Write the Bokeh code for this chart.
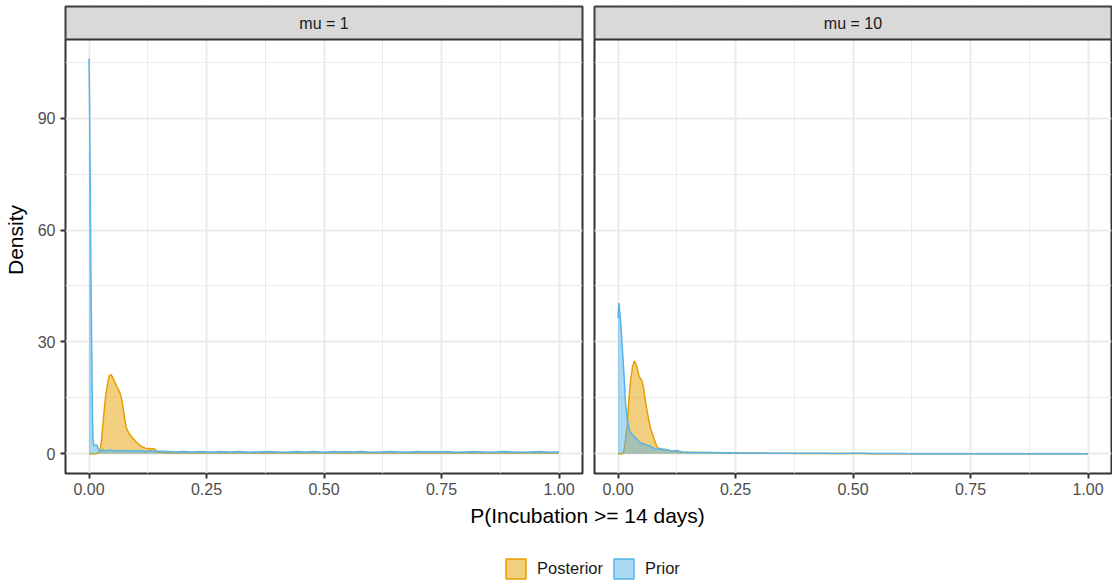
from bokeh.plotting import figure
from bokeh.layouts import row, column
from bokeh.models import Range1d, FixedTicker, NumeralTickFormatter, Legend, LegendItem
from bokeh.embed import file_html
from bokeh.resources import INLINE
from bokeh.core.properties import value

# ---------------- data ----------------
facet_labels = ["mu = 1", "mu = 10"]
series_names = ["Posterior", "Prior"]
x_ticks = [0.0, 0.25, 0.5, 0.75, 1.0]
x_minor = [0.125, 0.375, 0.625, 0.875]
y_ticks = [0, 30, 60, 90]
y_minor = [15, 45, 75, 105]
x_axis_title = "P(Incubation >= 14 days)"
y_axis_title = "Density"

tail_x = [0.16, 0.18, 0.20, 0.22, 0.24, 0.26, 0.28, 0.30, 0.32, 0.34,
          0.36, 0.38, 0.40, 0.42, 0.44, 0.46, 0.48, 0.50, 0.52, 0.54,
          0.56, 0.58, 0.60, 0.62, 0.64, 0.66, 0.68, 0.70, 0.72, 0.74,
          0.76, 0.78, 0.80, 0.82, 0.84, 0.86, 0.88, 0.90, 0.92, 0.94,
          0.96, 0.98, 1.00]

# mu = 1, prior
mu1_prior_x = [0.000, 0.001, 0.002, 0.003, 0.004, 0.005, 0.006, 0.007, 0.008, 0.009,
               0.010, 0.013, 0.016, 0.018, 0.020, 0.022, 0.025, 0.030, 0.035, 0.040,
               0.045, 0.050, 0.055, 0.060, 0.065, 0.070, 0.075, 0.080, 0.085, 0.090,
               0.095, 0.100, 0.110, 0.120, 0.130, 0.140, 0.150] + tail_x
mu1_prior_y = [106.0, 96.0, 82.0, 66.0, 50.0, 37.0, 26.0, 14.0, 6.0, 3.2,
               2.4, 2.2, 2.4, 2.0, 1.3, 0.9, 0.8, 1.0, 0.8, 0.9,
               1.0, 0.8, 0.9, 0.7, 0.9, 0.8, 0.9, 0.7, 0.8, 0.7,
               0.9, 0.7, 0.8, 0.6, 0.8, 0.6, 0.7,
               0.7, 0.5, 0.6, 0.5, 0.6, 0.4, 0.6, 0.5, 0.6, 0.4,
               0.5, 0.6, 0.5, 0.4, 0.6, 0.5, 0.6, 0.4, 0.6, 0.5,
               0.5, 0.6, 0.4, 0.5, 0.6, 0.5, 0.4, 0.6, 0.5, 0.5,
               0.6, 0.4, 0.5, 0.6, 0.5, 0.4, 0.6, 0.5, 0.4, 0.5,
               0.6, 0.4, 0.5]

# mu = 1, posterior
mu1_post_x = [0.000, 0.015, 0.020, 0.024, 0.027, 0.030, 0.033, 0.036, 0.040, 0.043,
              0.047, 0.051, 0.055, 0.060, 0.064, 0.068, 0.071, 0.075, 0.079, 0.085,
              0.093, 0.100, 0.107, 0.114, 0.120, 0.130, 0.139, 0.143, 0.147, 0.150] + tail_x
mu1_post_y = [0.0, 0.0, 0.3, 1.0, 4.0, 8.5, 12.5, 16.0, 19.0, 20.9,
              21.2, 20.3, 19.2, 17.8, 16.9, 15.5, 13.5, 10.2, 7.1, 5.4,
              4.2, 3.2, 2.4, 1.8, 1.5, 1.4, 1.3, 0.9, 0.4, 0.3,
              0.3, 0.2, 0.3, 0.2, 0.2, 0.3, 0.2, 0.2, 0.3, 0.2,
              0.2, 0.2, 0.3, 0.2, 0.2, 0.2, 0.3, 0.2, 0.2, 0.2,
              0.2, 0.3, 0.2, 0.2, 0.2, 0.2, 0.3, 0.2, 0.2, 0.2,
              0.2, 0.2, 0.3, 0.2, 0.2, 0.2, 0.2, 0.2, 0.2, 0.3,
              0.2, 0.2, 0.2]

# mu = 10, prior
mu10_prior_x = [0.000, 0.002, 0.006, 0.009, 0.013, 0.016, 0.020, 0.025, 0.031, 0.041,
                0.048, 0.059, 0.069, 0.080, 0.087, 0.094, 0.105, 0.115, 0.126, 0.137,
                0.148] + tail_x
mu10_prior_y = [36.4, 40.4, 35.0, 28.8, 20.7, 13.6, 9.1, 6.0, 5.1, 3.8,
                2.9, 2.4, 2.0, 1.1, 1.5, 1.25, 1.1, 0.65, 0.9, 0.4,
                0.4,
                0.35, 0.3, 0.3, 0.25, 0.25, 0.2, 0.2, 0.2, 0.15, 0.15,
                0.15, 0.12, 0.12, 0.1, 0.1, 0.08, 0.08, 0.1, 0.1, 0.05,
                0.05, 0.04, 0.04, 0.03, 0.03, 0.03, 0.02, 0.02, 0.02, 0.02,
                0.01, 0.01, 0.01, 0.01, 0.01, 0.01, 0.01, 0.0, 0.0, 0.0,
                0.0, 0.0, 0.0]

# mu = 10, posterior
mu10_post_x = [0.000, 0.010, 0.013, 0.016, 0.020, 0.023, 0.027, 0.031, 0.035, 0.040,
               0.045, 0.050, 0.054, 0.059, 0.064, 0.069, 0.076, 0.084, 0.091, 0.101,
               0.112, 0.126, 0.140, 0.150] + tail_x
mu10_post_y = [0.0, 0.0, 1.0, 3.8, 8.2, 14.5, 19.8, 23.4, 24.9, 23.4,
               20.7, 19.8, 18.0, 13.6, 10.0, 6.9, 4.2, 1.5, 1.2, 1.1,
               0.8, 0.5, 0.35, 0.3,
               0.3, 0.3, 0.25, 0.25, 0.2, 0.2, 0.15, 0.15, 0.12, 0.1,
               0.1, 0.08, 0.08, 0.06, 0.06, 0.05, 0.05, 0.04, 0.04, 0.03,
               0.03, 0.02, 0.02, 0.02, 0.02, 0.01, 0.01, 0.01, 0.01, 0.01,
               0.01, 0.0, 0.0, 0.0, 0.0, 0.0, 0.0, 0.0, 0.0, 0.0,
               0.0, 0.0, 0.0]

panels = [
    {"post": (mu1_post_x, mu1_post_y), "prior": (mu1_prior_x, mu1_prior_y)},
    {"post": (mu10_post_x, mu10_post_y), "prior": (mu10_prior_x, mu10_prior_y)},
]
for pn in panels:
    for k in ("post", "prior"):
        assert len(pn[k][0]) == len(pn[k][1]), (k, len(pn[k][0]), len(pn[k][1]))

# ---------------- style / layout ----------------
ORANGE = "#E69F00"
BLUE = "#56B4E9"
FONT = "Liberation Sans"
XLO, XHI = -0.05, 1.05
YLO, YTOP = -5.3, 111.1
LB, FW, GAP_R, GAP_L, RB = 64, 517, 6, 6, 1
STRIP, PH, TOPB, BOTB = 33, 434, 6, 30
PB_H = 78
Y_END = YTOP + STRIP * (YTOP - YLO) / PH
TICK_FS = "16px"
TITLE_FS = "21px"


def make_panel(idx):
    first = idx == 0
    p = figure(frame_width=FW, frame_height=STRIP + PH,
               x_range=Range1d(XLO, XHI), y_range=Range1d(YLO, Y_END),
               min_border_left=LB if first else GAP_L,
               min_border_right=GAP_R if first else RB,
               min_border_top=TOPB, min_border_bottom=BOTB,
               y_axis_location="left" if first else None,
               output_backend="svg", toolbar_location=None)
    p.background_fill_color = "white"
    p.border_fill_color = "white"
    p.outline_line_color = "#333333"
    p.outline_line_width = 2

    # grids
    p.xgrid.ticker = FixedTicker(ticks=x_ticks, minor_ticks=x_minor)
    p.ygrid.ticker = FixedTicker(ticks=y_ticks, minor_ticks=y_minor)
    for g in (p.xgrid, p.ygrid):
        g.grid_line_color = "#EBEBEB"
        g.grid_line_width = 2
        g.minor_grid_line_color = "#EBEBEB"
        g.minor_grid_line_width = 1

    # axes
    p.xaxis.ticker = FixedTicker(ticks=x_ticks)
    p.xaxis.formatter = NumeralTickFormatter(format="0.00")
    axes = list(p.xaxis) + (list(p.yaxis) if first else [])
    for ax in axes:
        ax.axis_line_color = None
        ax.major_tick_line_color = "#333333"
        ax.major_tick_line_width = 2
        ax.major_tick_out = 5
        ax.major_tick_in = 0
        ax.minor_tick_line_color = None
        ax.major_label_text_font = FONT
        ax.major_label_text_font_size = TICK_FS
        ax.major_label_text_color = "#4D4D4D"
    p.xaxis.major_label_standoff = 4
    if first:
        p.yaxis.ticker = FixedTicker(ticks=y_ticks)
        p.yaxis.major_label_standoff = 5
        p.yaxis.axis_label = y_axis_title
        p.yaxis.axis_label_text_font = FONT
        p.yaxis.axis_label_text_font_size = TITLE_FS
        p.yaxis.axis_label_text_font_style = "normal"
        p.yaxis.axis_label_text_color = "black"
        p.yaxis.axis_label_standoff = 8

    # densities: Posterior first, then Prior on top
    for key, color in (("post", ORANGE), ("prior", BLUE)):
        xs, ys = panels[idx][key]
        p.varea(x=xs, y1=[0.0] * len(xs), y2=ys, fill_color=color, fill_alpha=0.5)
        p.line(x=xs, y=ys, line_color=color, line_width=1.5)

    # facet strip
    p.quad(left=[XLO], right=[XHI], bottom=[YTOP], top=[Y_END],
           fill_color="#D9D9D9", line_color="#333333", line_width=2)
    p.text(x=[(XLO + XHI) / 2], y=[(YTOP + Y_END) / 2], text=[facet_labels[idx]],
           text_align="center", text_baseline="middle",
           text_font=value(FONT), text_font_size="16px", text_color="#1A1A1A")
    return p


p1 = make_panel(0)
p2 = make_panel(1)

TOTAL_W = LB + FW + GAP_R + GAP_L + FW + RB
CX = (LB + (LB + FW + GAP_R + GAP_L + FW)) / 2

pb = figure(width=TOTAL_W, height=PB_H, x_range=Range1d(0, TOTAL_W), y_range=Range1d(PB_H, 0),
            min_border=0, x_axis_location=None, y_axis_location=None,
            output_backend="svg", toolbar_location=None)
pb.outline_line_color = None
pb.grid.visible = False
pb.background_fill_color = "white"
pb.border_fill_color = "white"

pb.text(x=[CX], y=[12], text=[x_axis_title], text_align="center", text_baseline="middle",
        text_font=value(FONT), text_font_size=TITLE_FS, text_color="black")

# legend proxies (placed outside the visible range, only used for the legend keys)
r_post = pb.quad(left=[-40], right=[-30], top=[-40], bottom=[-30], fill_color=ORANGE, fill_alpha=0.5,
                 line_color=ORANGE, line_width=1.5)
r_prior = pb.quad(left=[-40], right=[-30], top=[-40], bottom=[-30], fill_color=BLUE, fill_alpha=0.5,
                  line_color=BLUE, line_width=1.5)
legend = Legend(items=[LegendItem(label=series_names[0], renderers=[r_post]),
                       LegendItem(label=series_names[1], renderers=[r_prior])],
                orientation="horizontal", location=(CX - 84, 0),
                glyph_width=25, glyph_height=25, label_standoff=9, spacing=8,
                padding=0, margin=0, border_line_color=None, background_fill_alpha=0,
                label_text_font=FONT, label_text_font_size="16.5px", label_text_color="#1A1A1A")
pb.add_layout(legend)

layout = column(row(p1, p2), pb)
open("out.html", "w").write(file_html(layout, INLINE))
